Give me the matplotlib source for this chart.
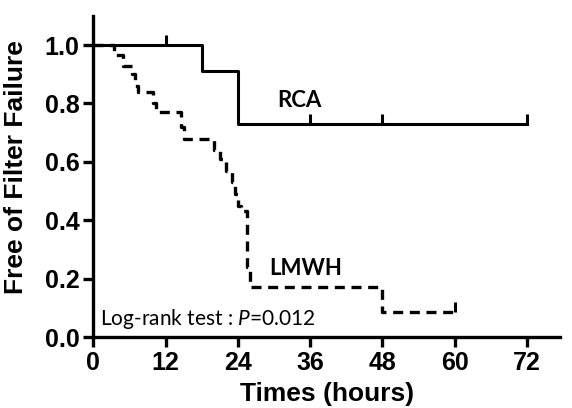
import matplotlib.pyplot as plt
from matplotlib.lines import TICKUP

# Datos de Kaplan-Meier
rca_tiempos = [0, 18, 24, 72]
rca_superv = [1.0, 0.91, 0.73, 0.73]
rca_censura_t = [12, 36, 48, 72]
rca_censura_s = [1.0, 0.73, 0.73, 0.73]

lmwh_tiempos = [0, 3.5, 5, 6.5, 7, 7.5, 10, 10.5, 14.5, 15, 20, 21, 22, 23,
                23.5, 24, 24.5, 25.5, 26, 48, 60]
lmwh_superv = [1.0, 0.965, 0.93, 0.90, 0.86, 0.84, 0.80, 0.77, 0.72, 0.68,
               0.64, 0.61, 0.57, 0.53, 0.49, 0.45, 0.43, 0.24, 0.17, 0.085, 0.085]
lmwh_censura_t = [60]
lmwh_censura_s = [0.085]

x_ticks = [0, 12, 24, 36, 48, 60, 72]
y_ticks = [0.0, 0.2, 0.4, 0.6, 0.8, 1.0]

plt.rcParams['font.family'] = 'Liberation Sans'
plt.rcParams['font.weight'] = 'bold'
plt.rcParams['mathtext.fontset'] = 'custom'
plt.rcParams['mathtext.it'] = 'Lato:style=italic:weight=normal'

fig = plt.figure(figsize=(5.72, 4.08), dpi=100)
ax = fig.add_axes([0.163, 0.174, 0.816, 0.787])

ax.step(rca_tiempos, rca_superv, where='post', color='black', lw=2.2)
ax.plot(rca_censura_t, rca_censura_s, ls='none', marker=TICKUP, ms=7, mew=2.2, color='black')
ax.step(lmwh_tiempos, lmwh_superv, where='post', color='black', lw=2.4, dashes=(3.0, 2.0))
ax.plot(lmwh_censura_t, lmwh_censura_s, ls='none', marker=TICKUP, ms=7, mew=2.2, color='black')

ax.set_xlim(0, 77.5)
ax.set_ylim(0, 1.1)
ax.set_xticks(x_ticks)
ax.set_yticks(y_ticks)
ax.set_xticklabels([str(v) for v in x_ticks], fontsize=18, fontweight='bold')
ax.set_yticklabels(['%.1f' % v for v in y_ticks], fontsize=18, fontweight='bold')
for lado in ['top', 'right']:
    ax.spines[lado].set_visible(False)
for lado in ['left', 'bottom']:
    ax.spines[lado].set_linewidth(2.4)
ax.tick_params(width=2.4, length=7, pad=3)

ax.set_xlabel('Times (hours)', fontsize=19, fontweight='bold', labelpad=5)
ax.set_ylabel('Free of Filter Failure', fontsize=19, fontweight='bold')
ax.yaxis.set_label_coords(-0.14, 0.53)

ax.text(30.5, 0.81, 'RCA', fontsize=16, fontweight='bold', family='Lato', va='center')
ax.text(29.3, 0.235, 'LMWH', fontsize=16, fontweight='bold', family='Lato', va='center')
ax.text(1.2, 0.04, 'Log-rank test : $\\it{P}$=0.012', fontsize=15, fontweight='normal',
        family='Lato', va='baseline')

plt.savefig('out.png', dpi=100)
plt.close(fig)
